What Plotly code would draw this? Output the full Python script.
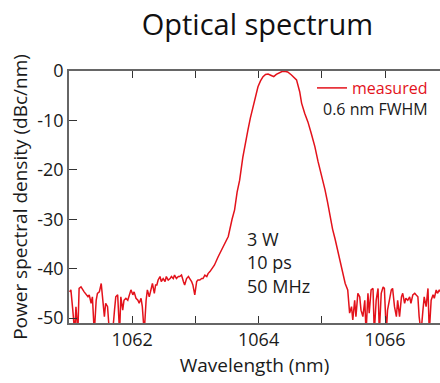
import plotly.graph_objects as go

# ---- data ----
noise_left_wl = [1061.01, 1061.03, 1061.06, 1061.09, 1061.11, 1061.14, 1061.16, 1061.19, 1061.24, 1061.27,
                 1061.30, 1061.32, 1061.35, 1061.37, 1061.40, 1061.43, 1061.45, 1061.48, 1061.51, 1061.53,
                 1061.56, 1061.58, 1061.61, 1061.64, 1061.69, 1061.72, 1061.74, 1061.77, 1061.80, 1061.82,
                 1061.85, 1061.87, 1061.90, 1061.93, 1061.95, 1061.98, 1062.01, 1062.03, 1062.06, 1062.09,
                 1062.11, 1062.14, 1062.16, 1062.19, 1062.22, 1062.24, 1062.27, 1062.30, 1062.32, 1062.35,
                 1062.37]
noise_left_db = [-44.7, -44.3, -48.4, -53.0, -47.7, -53.0, -44.0, -43.7, -44.7, -45.3,
                 -45.7, -45.3, -47.0, -45.7, -53.0, -46.4, -45.0, -44.7, -43.0, -45.7,
                 -49.7, -47.0, -47.7, -53.0, -53.0, -48.4, -45.7, -45.3, -53.0, -45.7,
                 -48.4, -46.4, -46.0, -46.4, -45.3, -44.3, -45.3, -44.7, -46.0, -46.4,
                 -47.0, -46.0, -47.7, -53.0, -46.4, -44.3, -45.7, -43.7, -43.0, -45.0,
                 -43.3]

shoulder_wl = [1062.39, 1062.41, 1062.44, 1062.46, 1062.49, 1062.52, 1062.54, 1062.57, 1062.60, 1062.62,
               1062.65, 1062.67, 1062.70, 1062.73, 1062.75, 1062.78, 1062.81, 1062.83, 1062.86, 1062.89,
               1062.91, 1062.94, 1062.96, 1062.99, 1063.02, 1063.04, 1063.07, 1063.10, 1063.12, 1063.15,
               1063.18, 1063.20, 1063.23]
shoulder_db = [-43.3, -42.3, -41.6, -42.6, -42.0, -42.6, -41.6, -42.3, -42.0, -41.6,
               -42.0, -41.3, -42.0, -41.6, -41.6, -41.3, -42.6, -43.3, -42.0, -41.6,
               -42.0, -42.6, -43.3, -45.3, -42.6, -42.3, -42.3, -42.0, -42.0, -41.3,
               -41.6, -41.0, -40.6]

peak_wl = [1063.30, 1063.36, 1063.44, 1063.52, 1063.58, 1063.62, 1063.66, 1063.70, 1063.75, 1063.80,
           1063.83, 1063.87, 1063.91, 1063.95, 1063.99, 1064.03, 1064.07, 1064.11, 1064.15, 1064.20,
           1064.24, 1064.28, 1064.33, 1064.37, 1064.41, 1064.46, 1064.52, 1064.57, 1064.60, 1064.65,
           1064.68, 1064.73, 1064.78, 1064.83, 1064.89, 1064.94, 1064.99, 1065.05, 1065.09, 1065.13,
           1065.17, 1065.21, 1065.25, 1065.29, 1065.33, 1065.37]
peak_db = [-39.3, -37.6, -35.5, -33.5, -30.0, -28.1, -24.5, -22.1, -17.5, -13.5,
           -12.0, -9.5, -7.2, -5.0, -3.2, -2.0, -1.15, -0.7, -0.6, -0.9,
           -1.15, -0.7, -0.3, -0.1, -0.05, -0.2, -0.8, -1.5, -1.8, -4.2,
           -6.5, -8.6, -10.3, -12.5, -15.3, -18.3, -20.7, -24.0, -26.5, -29.5,
           -32.0, -34.0, -36.2, -38.5, -40.3, -43.0]

noise_right_wl = [1065.41, 1065.44, 1065.47, 1065.49, 1065.52, 1065.54, 1065.57, 1065.60, 1065.62, 1065.65,
                  1065.68, 1065.70, 1065.73, 1065.75, 1065.78, 1065.81, 1065.83, 1065.86, 1065.89, 1065.91,
                  1065.94, 1065.97, 1065.99, 1066.02, 1066.04, 1066.07, 1066.10, 1066.12, 1066.15, 1066.18,
                  1066.20, 1066.23, 1066.26, 1066.28, 1066.31, 1066.33, 1066.36, 1066.39, 1066.41, 1066.44,
                  1066.47, 1066.49, 1066.52, 1066.54, 1066.57, 1066.60, 1066.62, 1066.65, 1066.68, 1066.70,
                  1066.73, 1066.76, 1066.78, 1066.81, 1066.83, 1066.86, 1066.89]
noise_right_db = [-44.3, -49.0, -47.7, -50.4, -46.4, -49.7, -45.0, -45.7, -48.4, -49.7,
                  -46.4, -53.0, -45.0, -49.0, -44.3, -44.0, -53.0, -46.4, -44.0, -53.0,
                  -45.0, -43.7, -44.0, -53.0, -48.4, -46.0, -44.3, -44.0, -47.7, -49.7,
                  -46.4, -49.7, -45.7, -45.0, -47.0, -46.0, -46.4, -45.7, -47.0, -45.3,
                  -45.0, -45.3, -45.7, -49.7, -53.0, -48.4, -45.7, -47.7, -44.0, -53.0,
                  -46.4, -45.3, -46.0, -44.3, -45.0, -44.3, -45.0]

wavelength = noise_left_wl + shoulder_wl + peak_wl + noise_right_wl
psd = noise_left_db + shoulder_db + peak_db + noise_right_db

x_tickvals = [1062, 1063, 1064, 1065, 1066]
x_ticktext = ["1062", "", "1064", "", "1066"]
y_tickvals = [0, -10, -20, -30, -40, -50]
y_ticktext = ["0", "-10", "-20", "-30", "-40", "-50"]

RED = "#e3121b"
AXIS = "#666666"
TXT = "#1a1a1a"
FONT = "Open Sans"

fig = go.Figure()
fig.add_trace(go.Scatter(x=wavelength, y=psd, mode="lines", name="measured",
                         line=dict(color=RED, width=1.5)))

fig.update_layout(
    width=440, height=383,
    margin=dict(l=69, r=0, t=71, b=60),
    paper_bgcolor="white", plot_bgcolor="white",
    font=dict(family=FONT, size=18, color=TXT),
    title=dict(text="Optical spectrum", x=0.585, xanchor="center", y=0.935, yanchor="middle",
               font=dict(family=FONT, size=29, color="#111111")),
    showlegend=True,
    legend=dict(x=0.655, y=1.0, xanchor="left", yanchor="top", bgcolor="rgba(0,0,0,0)",
                font=dict(color=RED, size=16), itemwidth=30, tracegroupgap=0),
    annotations=[
        dict(text="0.6 nm FWHM", xref="paper", yref="paper", x=0.678, y=0.85,
             xanchor="left", yanchor="middle", showarrow=False,
             font=dict(size=16, color=TXT)),
        dict(text="3 W<br>10 ps<br>50 MHz", xref="paper", yref="paper", x=0.475, y=0.09,
             xanchor="left", yanchor="bottom", align="left", showarrow=False,
             font=dict(size=18, color=TXT)),
    ],
)

fig.update_xaxes(
    range=[1061, 1066.87], tickmode="array", tickvals=x_tickvals, ticktext=x_ticktext,
    ticks="inside", ticklen=7, tickwidth=1.3, tickcolor="#333333",
    showline=True, linecolor=AXIS, linewidth=1.5, mirror="ticks",
    showgrid=False, zeroline=False,
    title=dict(text="Wavelength (nm)", standoff=8, font=dict(size=19, color=TXT)),
    tickfont=dict(size=18, color=TXT),
)
fig.update_yaxes(
    range=[-51, 0], tickmode="array", tickvals=y_tickvals, ticktext=y_ticktext,
    ticks="inside", ticklen=8, tickwidth=1.3, tickcolor="#333333",
    showline=True, linecolor=AXIS, linewidth=1.5, mirror=False,
    showgrid=False, zeroline=False,
    title=dict(text="Power spectral density (dBc/nm)", standoff=5, font=dict(size=19, color=TXT)),
    tickfont=dict(size=18, color=TXT),
)

fig.write_html("out.html", config={"displayModeBar": False},
               post_script="document.body.style.margin='0';")
